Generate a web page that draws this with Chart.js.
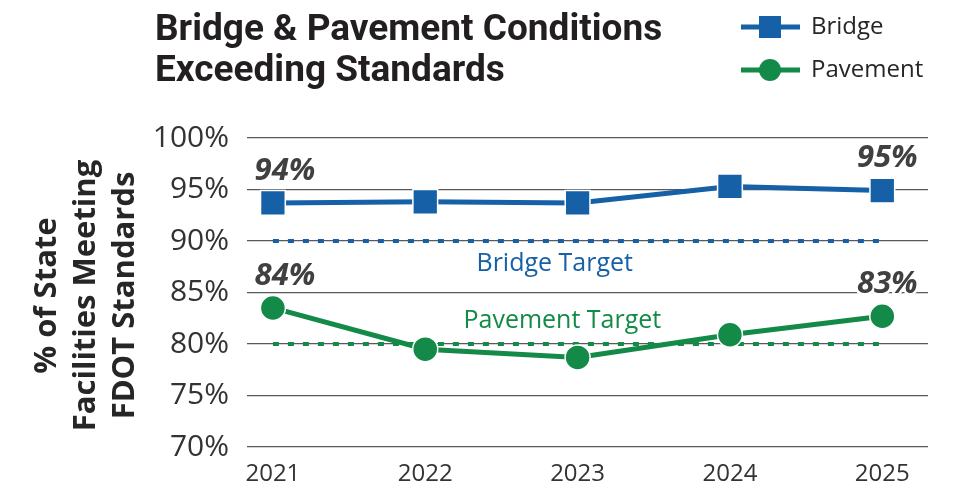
<!DOCTYPE html>
<html>
<head>
<meta charset="utf-8">
<script src="https://cdn.jsdelivr.net/npm/chart.js@4.4.1/dist/chart.umd.min.js"></script>
<style>
  html, body { margin: 0; padding: 0; background: #fff; }
</style>
</head>
<body>
<canvas id="myChart" width="964" height="492"></canvas>
<script>
// data
var years = [2021, 2022, 2023, 2024, 2025];
var bridge = [93.7, 93.8, 93.7, 95.3, 94.9];
var pavement = [83.5, 79.5, 78.7, 80.9, 82.7];
var bridgeTarget = [90, 90, 90, 90, 90];
var pavementTarget = [80, 80, 80, 80, 80];
var titleLines = ['Bridge & Pavement Conditions', 'Exceeding Standards'];
var yTitleLines = ['% of State', 'Facilities Meeting', 'FDOT Standards'];

var BLUE = '#1560a6';
var GREEN = '#138a47';
var TEXT = '#262626';

function pts(vals) {
  return years.map(function (yr, i) { return { x: yr, y: vals[i] }; });
}

// labels, title, legend and the rotated axis title
var extras = {
  id: 'extras',
  afterDatasetsDraw: function (chart) {
    var c = chart.ctx, xs = chart.scales.x, ys = chart.scales.y;
    c.save();
    c.textAlign = 'center';
    c.textBaseline = 'middle';

    // end point value labels
    c.font = 'italic bold 31px "Open Sans"';
    c.lineJoin = 'round';
    [0, 1].forEach(function (di) {
      var meta = chart.getDatasetMeta(di);
      var vals = chart.data.datasets[di].data;
      [0, years.length - 1].forEach(function (i) {
        var p = meta.data[i];
        var txt = Math.round(vals[i].y) + '%';
        var dx = i === 0 ? 12 : 5;
        c.strokeStyle = '#fff';
        c.lineWidth = 5;
        c.strokeText(txt, p.x + dx, p.y - 32);
        c.fillStyle = '#404040';
        c.fillText(txt, p.x + dx, p.y - 32);
      });
    });

    // target labels
    c.font = '25px "Open Sans"';
    c.fillStyle = BLUE;
    c.fillText('Bridge Target', xs.getPixelForValue(2022.85), ys.getPixelForValue(87.8));
    c.fillStyle = GREEN;
    c.fillText('Pavement Target', xs.getPixelForValue(2022.9), ys.getPixelForValue(82.2));
    c.restore();
  },
  afterDraw: function (chart) {
    var c = chart.ctx;
    c.save();

    // title
    c.fillStyle = '#231f20';
    c.textAlign = 'left';
    c.textBaseline = 'alphabetic';
    c.font = 'bold 37px "Roboto", sans-serif';
    c.fillText(titleLines[0], 155, 40);
    c.fillText(titleLines[1], 155, 81);

    // legend
    var items = [
      { label: chart.data.datasets[0].label, color: BLUE, y: 27, shape: 'rect' },
      { label: chart.data.datasets[1].label, color: GREEN, y: 70, shape: 'circle' }
    ];
    items.forEach(function (it) {
      c.strokeStyle = it.color;
      c.lineWidth = 5;
      c.beginPath();
      c.moveTo(741, it.y);
      c.lineTo(800, it.y);
      c.stroke();
      c.fillStyle = it.color;
      if (it.shape === 'rect') {
        c.fillRect(759, it.y - 11, 22, 22);
      } else {
        c.beginPath();
        c.arc(770, it.y, 11, 0, Math.PI * 2);
        c.fill();
      }
      c.fillStyle = TEXT;
      c.font = '24px "Open Sans"';
      c.textBaseline = 'middle';
      c.fillText(it.label, 811, it.y);
    });

    // y axis title, three rotated lines
    var a = chart.chartArea;
    var cy = (a.top + a.bottom) / 2;
    c.font = 'bold 31px "Open Sans"';
    c.fillStyle = TEXT;
    c.textAlign = 'center';
    c.textBaseline = 'middle';
    var xsPos = [47, 86, 125];
    yTitleLines.forEach(function (line, i) {
      c.save();
      c.translate(xsPos[i], cy + 3);
      c.rotate(-Math.PI / 2);
      c.fillText(line, 0, 0);
      c.restore();
    });
    c.restore();
  }
};

var ctx = document.getElementById('myChart').getContext('2d');
var myChart = new Chart(ctx, {
  type: 'line',
  data: {
    datasets: [{
      label: 'Bridge',
      data: pts(bridge),
      borderColor: BLUE,
      backgroundColor: BLUE,
      borderWidth: 5,
      pointStyle: 'rect',
      pointRadius: 17.5,
      pointBorderColor: '#fff',
      pointBorderWidth: 1.5,
      tension: 0
    }, {
      label: 'Pavement',
      data: pts(pavement),
      borderColor: GREEN,
      backgroundColor: GREEN,
      borderWidth: 5,
      pointStyle: 'circle',
      pointRadius: 12.5,
      pointBorderColor: '#fff',
      pointBorderWidth: 1.5,
      tension: 0
    }, {
      label: 'Bridge Target',
      data: pts(bridgeTarget),
      borderColor: BLUE,
      borderWidth: 4,
      borderDash: [6, 9],
      pointRadius: 0
    }, {
      label: 'Pavement Target',
      data: pts(pavementTarget),
      borderColor: GREEN,
      borderWidth: 4,
      borderDash: [6, 9],
      pointRadius: 0
    }]
  },
  options: {
    responsive: false,
    animation: false,
    layout: { padding: { top: 138, right: 36, left: 0, bottom: 0 } },
    plugins: {
      legend: { display: false },
      tooltip: { enabled: false }
    },
    scales: {
      x: {
        type: 'linear',
        min: 2020.83,
        max: 2025.3,
        grid: { display: false },
        border: { display: false },
        afterFit: function (s) { s.height = 45; },
        afterBuildTicks: function (s) {
          s.ticks = years.map(function (v) { return { value: v }; });
        },
        ticks: {
          padding: 5,
          color: '#333',
          font: { family: 'Open Sans', size: 24 },
          callback: function (v) { return String(v); }
        }
      },
      y: {
        min: 70,
        max: 100,
        grid: { color: '#595959', lineWidth: 1.2, drawTicks: false },
        border: { display: false },
        afterFit: function (s) { s.width = 247; },
        ticks: {
          stepSize: 5,
          padding: 18,
          color: '#333',
          font: { family: 'Open Sans', size: 30 },
          callback: function (v) { return v + '%'; }
        }
      }
    }
  },
  plugins: [extras]
});
</script>
</body>
</html>
